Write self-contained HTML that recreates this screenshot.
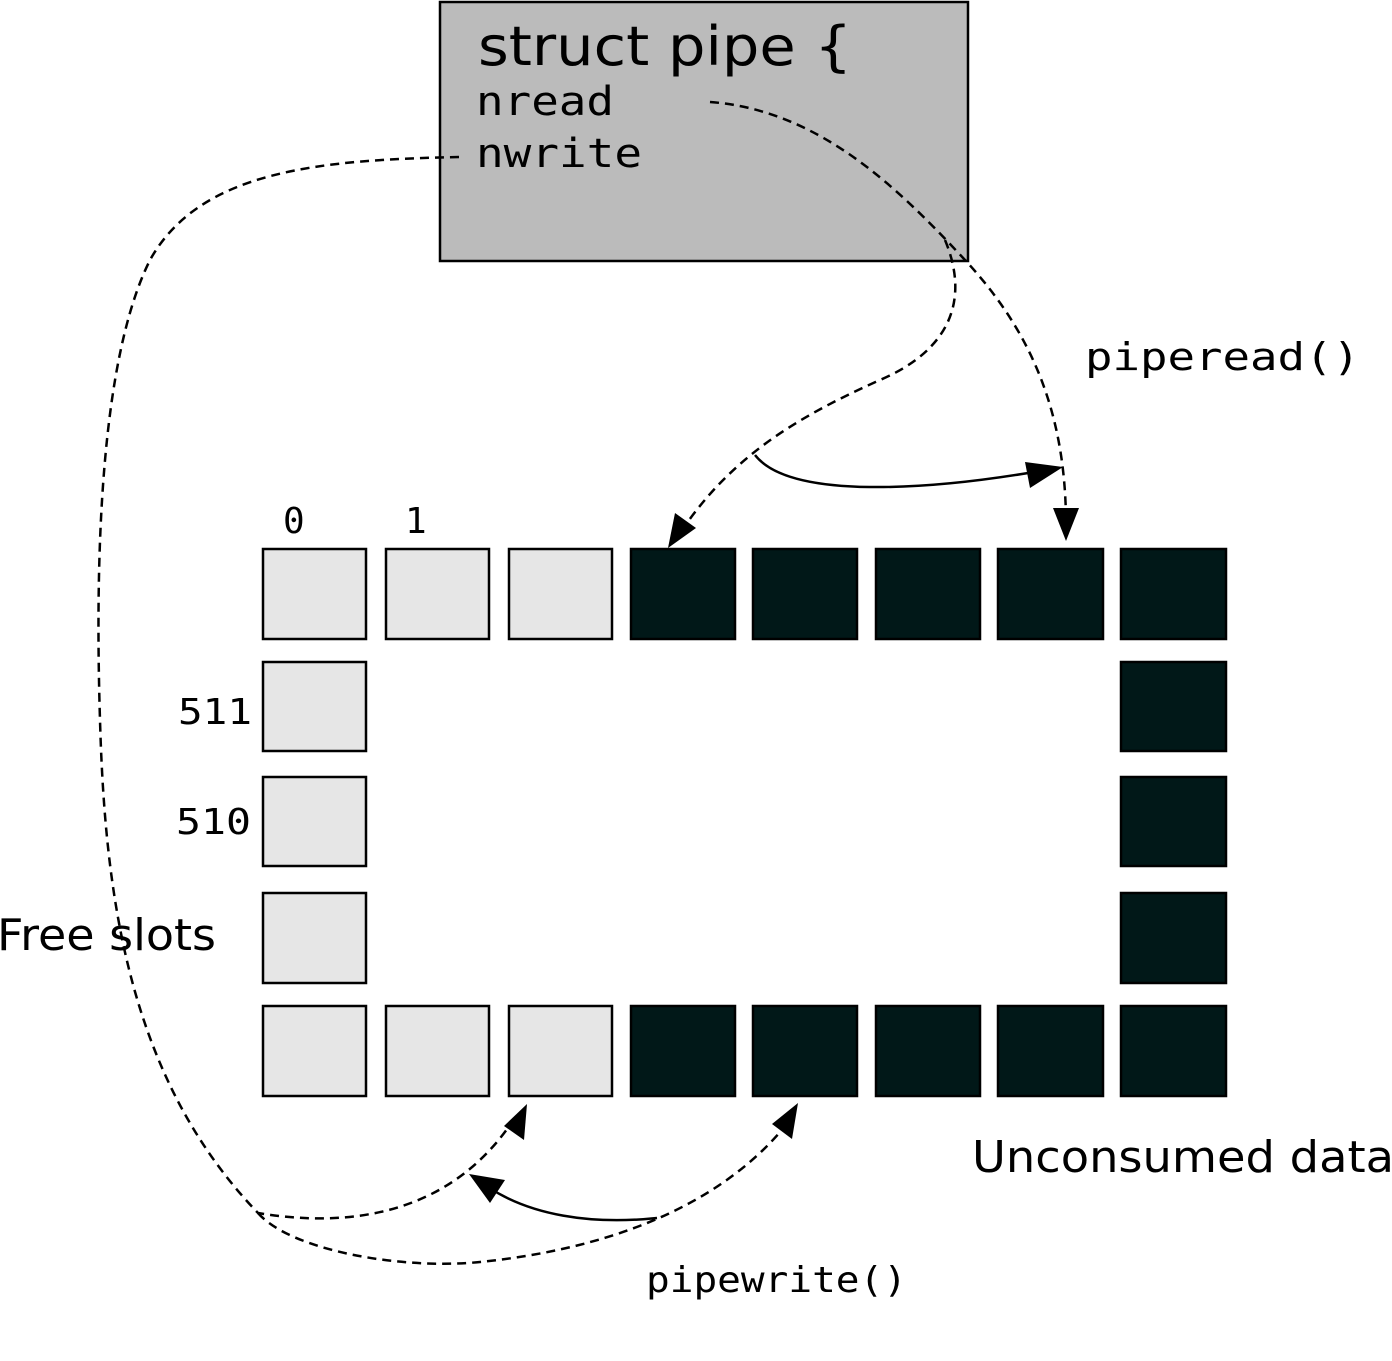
<!DOCTYPE html>
<html><head><meta charset="utf-8"><style>html,body{margin:0;padding:0;background:#fff}svg{display:block}</style></head>
<body>
<svg width="1392" height="1361" viewBox="0 0 1392 1361" xmlns="http://www.w3.org/2000/svg">
<rect x="440" y="2" width="528" height="259" fill="#bbbbbb" stroke="#000" stroke-width="2.5"/>
<text x="478" y="65" font-family="DejaVu Sans, Liberation Sans, sans-serif" font-size="54" textLength="374" lengthAdjust="spacingAndGlyphs">struct pipe {</text>
<text x="476" y="115" font-family="DejaVu Sans Mono, Liberation Mono, monospace" font-size="40" textLength="138" lengthAdjust="spacingAndGlyphs">nread</text>
<text x="476" y="167" font-family="DejaVu Sans Mono, Liberation Mono, monospace" font-size="40" textLength="166" lengthAdjust="spacingAndGlyphs">nwrite</text>

<g stroke="#000" stroke-width="2.5">
<g fill="#e6e6e6">
<rect x="263" y="549" width="103" height="90"/><rect x="386" y="549" width="103" height="90"/><rect x="509" y="549" width="103" height="90"/>
<rect x="263" y="662" width="103" height="89"/><rect x="263" y="777" width="103" height="89"/><rect x="263" y="893" width="103" height="90"/>
<rect x="263" y="1006" width="103" height="90"/><rect x="386" y="1006" width="103" height="90"/><rect x="509" y="1006" width="103" height="90"/>
</g>
<g fill="#011818">
<rect x="631" y="549" width="104" height="90"/><rect x="753" y="549" width="104" height="90"/><rect x="876" y="549" width="104" height="90"/><rect x="998" y="549" width="105" height="90"/><rect x="1121" y="549" width="105" height="90"/>
<rect x="1121" y="662" width="105" height="89"/><rect x="1121" y="777" width="105" height="89"/><rect x="1121" y="893" width="105" height="90"/>
<rect x="631" y="1006" width="104" height="90"/><rect x="753" y="1006" width="104" height="90"/><rect x="876" y="1006" width="104" height="90"/><rect x="998" y="1006" width="105" height="90"/><rect x="1121" y="1006" width="105" height="90"/>
</g>
</g>

<g font-family="DejaVu Sans Mono, Liberation Mono, monospace" font-size="36">
<text x="283" y="533">0</text><text x="405" y="533">1</text>
<text x="178" y="724" textLength="74" lengthAdjust="spacingAndGlyphs">511</text><text x="176" y="834" textLength="75" lengthAdjust="spacingAndGlyphs">510</text>
<text x="1085" y="370" font-size="38" textLength="275" lengthAdjust="spacingAndGlyphs">piperead()</text>
<text x="646" y="1292" textLength="261" lengthAdjust="spacingAndGlyphs">pipewrite()</text>
</g>
<g font-family="DejaVu Sans, Liberation Sans, sans-serif" font-size="44">
<text x="-3" y="950" textLength="219" lengthAdjust="spacingAndGlyphs">Free slots</text>
<text x="972" y="1172" textLength="422" lengthAdjust="spacingAndGlyphs">Unconsumed data</text>
</g>

<g fill="none" stroke="#000" stroke-width="2.5" stroke-dasharray="9,6">
<path d="M459,157 C320,160 200,170 150,260 C100,360 95,560 100,720 C105,900 130,1080 258,1213 C330,1225 440,1225 510,1125"/>
<path d="M258,1213 C290,1250 400,1270 480,1262 C600,1250 720,1210 790,1120"/>
<path d="M710,102 C820,110 900,190 965,260 C1030,330 1065,410 1066,520"/>
<path d="M945,240 C970,300 950,350 880,380 C790,420 730,460 682,530"/>
</g>
<g fill="none" stroke="#000" stroke-width="2.5">
<path d="M755,455 C790,500 930,490 1040,471"/>
<path d="M657,1218 C590,1225 530,1215 488,1187"/>
</g>
<g fill="#000">
<polygon points="1066,541 1053,508 1079,508"/>
<polygon points="668,548 675,513 696,528"/>
<polygon points="527,1104 524,1140 504,1126"/>
<polygon points="798,1103 792,1139 772,1124"/>
<polygon points="1063,467 1030,488 1025,462"/>
<polygon points="469,1174 505,1180 490,1203"/>
</g>
</svg>
</body></html>
